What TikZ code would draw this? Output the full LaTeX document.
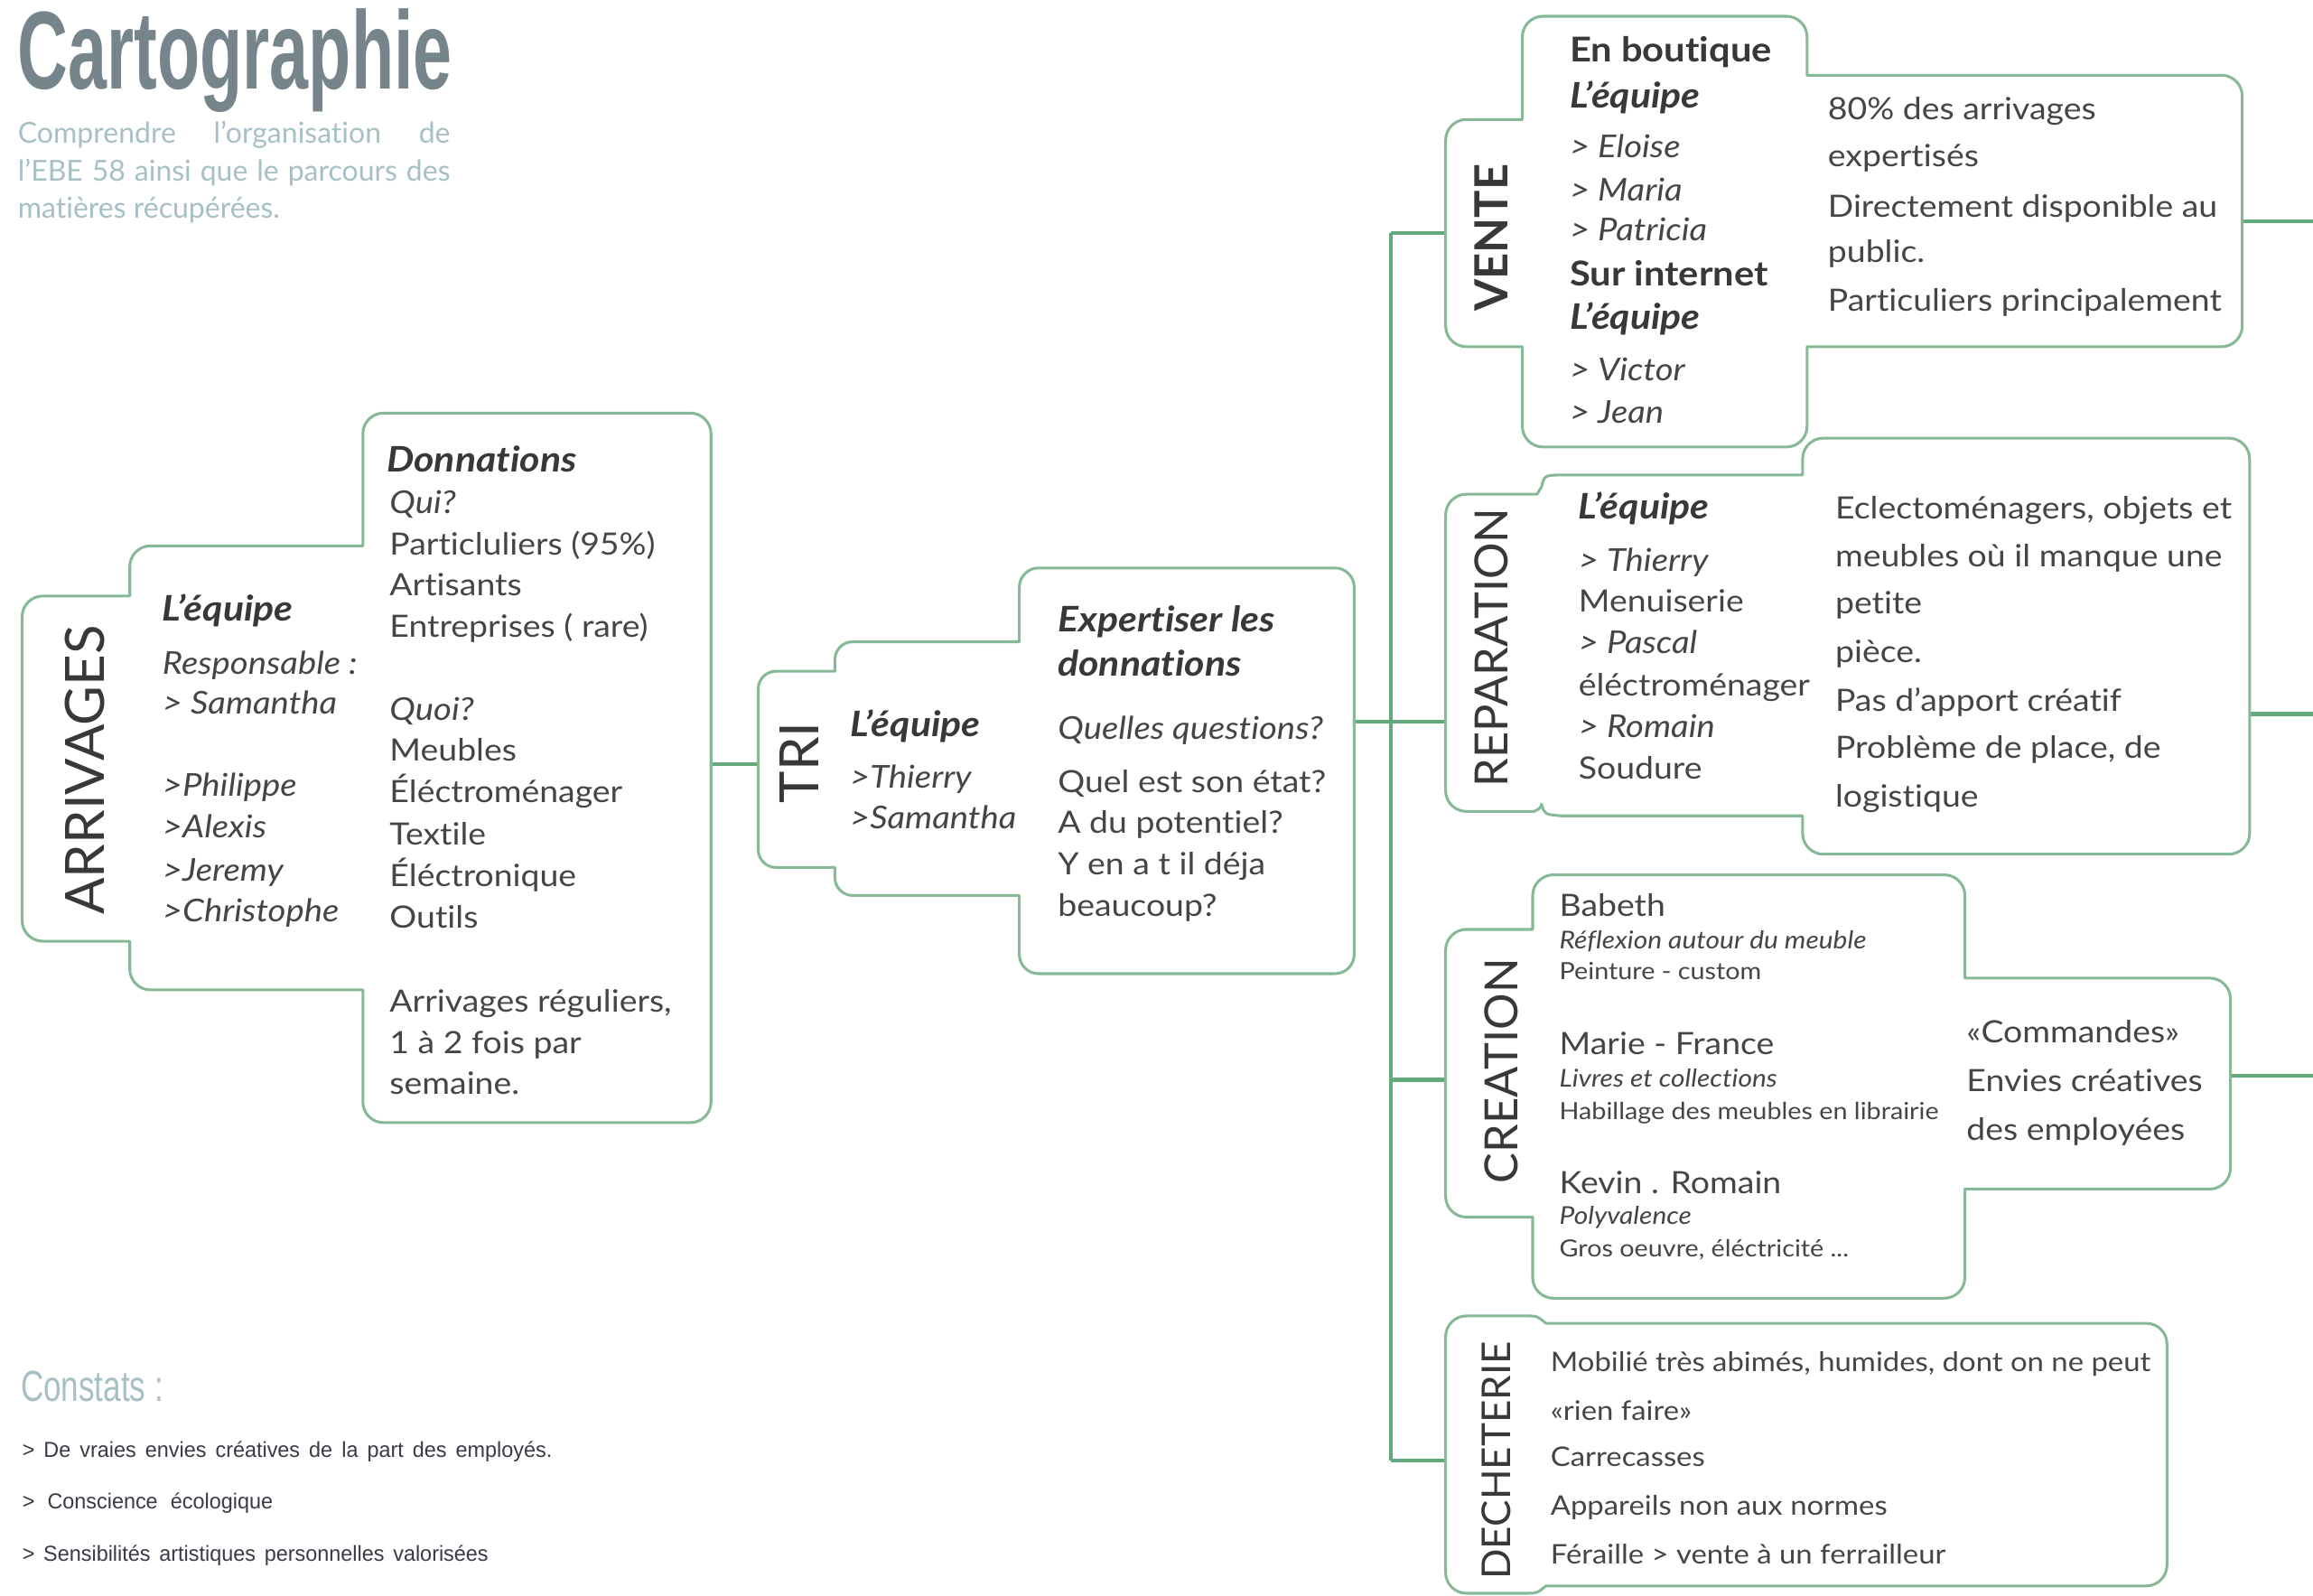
\documentclass[tikz,border=0pt]{standalone}
\usepackage{fontspec}
\setmainfont[FakeStretch=1.1,Ligatures=NoCommon]{Lato}
\newfontfamily\plainfont[Ligatures=NoCommon]{Lato}
\newfontfamily\titlefont[FakeStretch=0.63]{Liberation Sans}
\newfontfamily\constfont[FakeStretch=0.73]{Liberation Sans}
\newfontfamily\notefont[FakeStretch=0.975]{Liberation Sans}
\definecolor{boxgreen}{HTML}{86B996}
\definecolor{linkgreen}{HTML}{62A97C}
\definecolor{tc}{HTML}{454545}
\definecolor{tdark}{HTML}{383838}
\definecolor{titlec}{HTML}{76858C}
\definecolor{subc}{HTML}{A6C0C5}
\definecolor{notec}{HTML}{3A3A48}
\newcommand{\fsz}[1]{\fontsize{#1}{#1}\selectfont}
\def\crn(#1,#2)(#3,#4)(#5,#6){-- (#1,#2) .. controls ({#1+.55*(#3-(#1))},{#2+.55*(#4-(#2))}) and ({#5+.55*(#3-(#5))},{#6+.55*(#4-(#6))}) .. (#5,#6)}
\tikzset{
  box/.style={draw=boxgreen,line width=2.3pt,fill=white,line join=round},
  link/.style={draw=linkgreen,line width=3.2pt,line cap=butt},
  txt/.style={anchor=base west,inner sep=0pt,text=tc,font=\fsz{25.5}},
  narrowt/.style={txt,font=\fsz{22.4}},
  ital/.style={txt,font=\fsz{26.1}\itshape},
  bital/.style={txt,text=tdark,font=\fsz{29.2}\bfseries\itshape},
  boldt/.style={txt,text=tdark,font=\fsz{28.4}\bfseries},
  smallt/.style={txt,font=\fsz{19.6}},
  smalli/.style={txt,font=\fsz{20.4}\itshape},
  rot/.style={rotate=90,anchor=base,inner sep=0pt,text=tdark},
  note/.style={anchor=base west,inner sep=0pt,text=notec,font=\notefont\fsz{18}},
  sub/.style={anchor=base west,inner sep=0pt,text=subc,font=\plainfont\fsz{24}},
}
\begin{document}
\begin{tikzpicture}[x=1.22497pt,y=-1.22497pt]
\useasboundingbox (0,0) rectangle (1568,1081.3);
\fill[white] (0,0) rectangle (1568,1081.3);

% connection points
\coordinate (arrOut) at (482,518);
\coordinate (triIn) at (514,518);
\coordinate (triOut) at (918,489);
\coordinate (repIn) at (980,489);
\coordinate (tTop) at (943,158);
\coordinate (tCre) at (943,732);
\coordinate (tBot) at (943,990);
\coordinate (venIn) at (980,158);
\coordinate (creIn) at (980,732);
\coordinate (decIn) at (980,990);
\coordinate (venOut) at (1520,150);
\coordinate (venEnd) at (1568,150);
\coordinate (repOut) at (1525,484);
\coordinate (repEnd) at (1568,484);
\coordinate (creOut) at (1512,729);
\coordinate (creEnd) at (1568,729);

% connectors
\draw[link] (arrOut) -- (triIn);
\draw[link] (triOut) -- (repIn);
\draw[link,line cap=square] (tTop) -- (tBot);
\draw[link] (tTop) -- (venIn);
\draw[link] (tCre) -- (creIn);
\draw[link] (tBot) -- (decIn);
\draw[link] (venOut) -- (venEnd);
\draw[link] (repOut) -- (repEnd);
\draw[link] (creOut) -- (creEnd);

% ARRIVAGES outline
\draw[box] (88,404) \crn(29,404)(15,404)(15,418) \crn(15,624)(15,638)(29,638) -- (88,638) \crn(88,657)(88,671)(102,671) -- (246,671) \crn(246,747)(246,761)(260,761) \crn(468,761)(482,761)(482,747) \crn(482,294)(482,280)(468,280) \crn(260,280)(246,280)(246,294) -- (246,370) \crn(102,370)(88,370)(88,384) -- cycle;
% TRI outline
\draw[box] (566,455) \crn(526,455)(514,455)(514,467) \crn(514,576)(514,588)(526,588) -- (566,588) \crn(566,595)(566,607)(578,607) -- (691,607) \crn(691,647)(691,660)(704,660) \crn(905,660)(918,660)(918,647) \crn(918,398)(918,385)(905,385) \crn(704,385)(691,385)(691,398) -- (691,435) \crn(578,435)(566,435)(566,447) -- cycle;
% VENTE outline
\draw[box] (1032,81) \crn(994,81)(980,81)(980,95) \crn(980,221)(980,235)(994,235) -- (1032,235) \crn(1032,289)(1032,303)(1046,303) \crn(1211,303)(1225,303)(1225,289) -- (1225,235) \crn(1506,235)(1520,235)(1520,221) \crn(1520,65)(1520,51)(1506,51) -- (1225,51) \crn(1225,25)(1225,11)(1211,11) \crn(1046,11)(1032,11)(1032,25) -- cycle;
% REPARATION outline
\draw[box] (1042,335) \crn(994,335)(980,335)(980,349) \crn(980,536)(980,550)(994,550) -- (1040,550) .. controls (1044,548) .. (1045,545) .. controls (1047,552) .. (1058,553) -- (1222,553) \crn(1222,565)(1222,579)(1236,579) \crn(1511,579)(1525,579)(1525,565) \crn(1525,311)(1525,297)(1511,297) \crn(1236,297)(1222,297)(1222,311) -- (1222,322) -- (1060,322) .. controls (1047,322) .. (1045,330) -- cycle;
% CREATION outline
\draw[box] (1039,630) \crn(994,630)(980,630)(980,644) \crn(980,811)(980,825)(994,825) -- (1039,825) \crn(1039,866)(1039,880)(1053,880) \crn(1318,880)(1332,880)(1332,866) -- (1332,806) \crn(1498,806)(1512,806)(1512,792) \crn(1512,677)(1512,663)(1498,663) -- (1332,663) \crn(1332,607)(1332,593)(1318,593) \crn(1053,593)(1039,593)(1039,607) -- cycle;
% DECHETERIE outline
\draw[box] (994,892) -- (1034,892) .. controls (1042,892) .. (1048,897) \crn(1455,897)(1469,897)(1469,911) \crn(1469,1061)(1469,1075)(1455,1075) -- (1048,1075) .. controls (1042,1080) .. (1034,1080) \crn(994,1080)(980,1080)(980,1066) \crn(980,906)(980,892)(994,892) -- cycle;

% title block
\node[anchor=base west,inner sep=0pt,text=titlec,font=\titlefont\fsz{92}\bfseries] (title) at (12,60) {Cartographie};
\node[sub] (sub1) at (12,97) {\makebox[359pt][s]{Comprendre l’organisation de}};
\node[sub] (sub2) at (12,123) {\makebox[359pt][s]{l’EBE 58 ainsi que le parcours des}};
\node[sub] (sub3) at (12,148) {matières récupérées.};

% rotated labels
\node[rot,font=\plainfont\fsz{45}] (lArr) at (71,522) {ARRIVAGES};
\node[rot,font=\plainfont\fsz{45}] (lTri) at (555,517) {TRI};
\node[rot,font=\plainfont\fsz{38}\bfseries] (lVen) at (1022,161) {VENTE};
\node[rot,font=\plainfont\fsz{38}] (lRep) at (1022,439) {REPARATION};
\node[rot,font=\plainfont\fsz{38}] (lCre) at (1029,726) {CREATION};
\node[rot,font=\plainfont\fsz{33}] (lDec) at (1024,990) {DECHETERIE};

% ARRIVAGES text
\node[bital] (a1) at (110,421) {L’équipe};
\node[ital] (a2) at (110,457) {Responsable :};
\node[ital] (a3) at (110,484) {> Samantha};
\node[ital] (a4) at (110,540) {>Philippe};
\node[ital] (a5) at (110,568) {>Alexis};
\node[ital] (a6) at (110,597) {>Jeremy};
\node[ital] (a7) at (110,625) {>Christophe};
\node[bital] (b1) at (262,320) {Donnations};
\node[ital] (b2) at (264,348) {Qui?};
\node[txt] (b3) at (264,376) {Particluliers (95\%)};
\node[txt] (b4) at (264,404) {Artisants};
\node[txt] (b5) at (264,432) {Entreprises ( rare)};
\node[ital] (b6) at (264,488) {Quoi?};
\node[txt] (b7) at (264,516) {Meubles};
\node[txt] (b8) at (264,544) {Éléctroménager};
\node[txt] (b9) at (264,573) {Textile};
\node[txt] (b10) at (264,601) {Éléctronique};
\node[txt] (b11) at (264,629) {Outils};
\node[txt] (b12) at (264,686) {Arrivages réguliers,};
\node[txt] (b13) at (264,714) {1 à 2 fois par};
\node[txt] (b14) at (264,742) {semaine.};

% TRI text
\node[bital] (c1) at (576,499) {L’équipe};
\node[ital] (c2) at (576,534) {>Thierry};
\node[ital] (c3) at (576,562) {>Samantha};
\node[bital] (d1) at (717,428) {Expertiser les};
\node[bital] (d2) at (717,458) {donnations};
\node[ital] (d3) at (717,501) {Quelles questions?};
\node[txt] (d4) at (717,537) {Quel est son état?};
\node[txt] (d5) at (717,565) {A du potentiel?};
\node[txt] (d6) at (717,593) {Y en a t il déja};
\node[txt] (d7) at (717,621) {beaucoup?};

% VENTE text
\node[boldt] (e1) at (1064,42) {En boutique};
\node[bital] (e2) at (1064,73) {L’équipe};
\node[ital] (e3) at (1064,107) {> Eloise};
\node[ital] (e4) at (1064,136) {> Maria};
\node[ital] (e5) at (1064,163) {> Patricia};
\node[boldt] (e6) at (1064,194) {Sur internet};
\node[bital] (e7) at (1064,223) {L’équipe};
\node[ital] (e8) at (1064,258) {> Victor};
\node[ital] (e9) at (1064,287) {> Jean};
\node[txt] (f1) at (1239,81) {80\% des arrivages};
\node[txt] (f2) at (1239,113) {expertisés};
\node[txt] (f3) at (1239,147) {Directement disponible au};
\node[txt] (f4) at (1239,178) {public.};
\node[txt] (f5) at (1239,211) {Particuliers principalement};

% REPARATION text
\node[bital] (g1) at (1070,352) {L’équipe};
\node[ital] (g2) at (1070,387) {> Thierry};
\node[txt] (g3) at (1070,415) {Menuiserie};
\node[ital] (g4) at (1070,443) {> Pascal};
\node[txt] (g5) at (1070,472) {éléctroménager};
\node[ital] (g6) at (1070,500) {> Romain};
\node[txt] (g7) at (1070,528) {Soudure};
\node[txt] (h1) at (1244,352) {Eclectoménagers, objets et};
\node[txt] (h2) at (1244,384) {meubles où il manque une};
\node[txt] (h3) at (1244,416) {petite};
\node[txt] (h4) at (1244,449) {pièce.};
\node[txt] (h5) at (1244,482) {Pas d’apport créatif};
\node[txt] (h6) at (1244,514) {Problème de place, de};
\node[txt] (h7) at (1244,547) {logistique};

% CREATION text
\node[txt] (i1) at (1057,621) {Babeth};
\node[smalli] (i2) at (1057,643) {Réflexion autour du meuble};
\node[smallt] (i3) at (1057,664) {Peinture - custom};
\node[txt] (i4) at (1057,715) {Marie - France};
\node[smalli] (i5) at (1057,737) {Livres et collections};
\node[smallt] (i6) at (1057,759) {Habillage des meubles en librairie};
\node[txt] (i7) at (1057,809) {Kevin . Romain};
\node[smalli] (i8) at (1057,830) {Polyvalence};
\node[smallt] (i9) at (1057,852) {Gros oeuvre, éléctricité ...};
\node[txt] (j1) at (1333,707) {«Commandes»};
\node[txt] (j2) at (1333,740) {Envies créatives};
\node[txt] (j3) at (1333,773) {des employées};

% DECHETERIE text
\node[narrowt] (k1) at (1051,930) {Mobilié très abimés, humides, dont on ne peut};
\node[narrowt] (k2) at (1051,963) {«rien faire»};
\node[narrowt] (k3) at (1051,994) {Carrecasses};
\node[narrowt] (k4) at (1051,1027) {Appareils non aux normes};
\node[narrowt] (k5) at (1051,1060) {Féraille > vente à un ferrailleur};

% Constats
\node[anchor=base west,inner sep=0pt,text=subc,font=\constfont\fsz{36}] (m0) at (14,950) {Constats :};
\node[note] (m1) at (15,988) {\makebox[440pt][s]{> De vraies envies créatives de la part des employés.}};
\node[note] (m2) at (15,1023) {\makebox[208pt][s]{> Conscience écologique}};
\node[note] (m3) at (15,1058) {\makebox[387pt][s]{> Sensibilités artistiques personnelles valorisées}};
\end{tikzpicture}
\end{document}
